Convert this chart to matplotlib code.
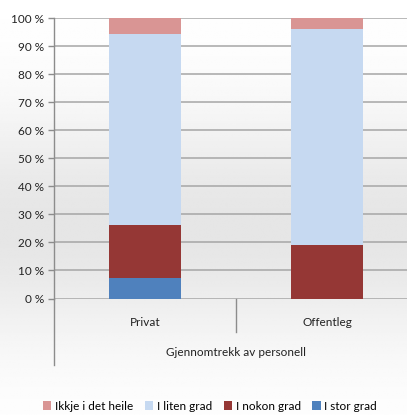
import matplotlib
matplotlib.use("Agg")
import matplotlib.pyplot as plt
import numpy as np
from matplotlib.lines import Line2D

plt.rcParams['font.family'] = ['Lato', 'DejaVu Sans']

categories = ["Privat", "Offentleg"]
series_names = ["Ikkje i det heile", "I liten grad", "I nokon grad", "I stor grad"]
stor_grad = [7.4, 0.0]
nokon_grad = [18.7, 19.1]
liten_grad = [68.4, 77.0]
ikkje_heile = [5.5, 3.9]
colors = ["#D99594", "#C6D9F1", "#953735", "#4F81BD"]
ytick_labels = ["%d %%" % v for v in range(0, 101, 10)]
x_title = "Gjennomtrekk av personell"

W, H = 407, 415
fig = plt.figure(figsize=(W / 100, H / 100), dpi=100)

# soft grey background
bg = fig.add_axes([0, 0, 1, 1], zorder=-10)
yy = np.linspace(0, 1, 200)
shade = 1 - 0.10 * np.exp(-((yy - 0.55) / 0.28) ** 2)
img = np.tile(shade[:, None], (1, 50))
bg.imshow(img, cmap="gray", vmin=0, vmax=1, aspect="auto", extent=[0, 1, 0, 1])
bg.set_axis_off()

left, right = 54 / W, 1.0
bottom, top = 1 - 298.5 / H, 1 - 18.3 / H
ax = fig.add_axes([left, bottom, right - left, top - bottom])
ax.patch.set_alpha(0)

x = np.arange(len(categories))
w = 0.40
ax.bar(x, stor_grad, w, color=colors[3], label=series_names[3], zorder=3)
base = np.array(stor_grad)
ax.bar(x, nokon_grad, w, bottom=base, color=colors[2], label=series_names[2], zorder=3)
base = base + np.array(nokon_grad)
ax.bar(x, liten_grad, w, bottom=base, color=colors[1], label=series_names[1], zorder=3)
base = base + np.array(liten_grad)
ax.bar(x, ikkje_heile, w, bottom=base, color=colors[0], label=series_names[0], zorder=3)

ax.set_xlim(-0.5, -0.5 + (W - 54) / 182)
ax.set_ylim(0, 100)
ax.set_yticks(range(0, 101, 10))
ax.set_yticklabels(ytick_labels, fontsize=8.5, color="#222222")
ax.yaxis.grid(True, color="#a6a6a6", linewidth=1.1, zorder=0)
ax.tick_params(axis="y", length=4, width=1, color="#8c8c8c", pad=3)
ax.set_xticks([])
for s in ["top", "right", "bottom"]:
    ax.spines[s].set_visible(False)
ax.spines["left"].set_color("#8c8c8c")
ax.spines["left"].set_linewidth(1)

# category labels and divider below the plot
trans = ax.get_xaxis_transform()
for xi, c in zip(x, categories):
    ax.text(xi, -24 / 280, c, transform=trans, ha="center", va="center",
            fontsize=8.5, color="#222222")
ax.add_line(Line2D([0.5, 0.5], [0, -33 / 280], transform=trans,
                   color="#8c8c8c", linewidth=1, clip_on=False))
ax.add_line(Line2D([-0.5, -0.5], [0, -66 / 280], transform=trans,
                   color="#8c8c8c", linewidth=1, clip_on=False))
ax.text(0.5, -54 / 280, x_title, transform=trans, ha="center", va="center",
        fontsize=8.5, color="#222222")

handles, labels = ax.get_legend_handles_labels()
handles, labels = handles[::-1], labels[::-1]
fig.legend(handles, labels, loc="center", bbox_to_anchor=(210 / W, 1 - 406 / H),
           ncol=4, frameon=False, fontsize=8.5, handlelength=0.7, handleheight=0.7,
           handletextpad=0.3, columnspacing=1.0, borderaxespad=0)

fig.savefig("out.png", dpi=100)
